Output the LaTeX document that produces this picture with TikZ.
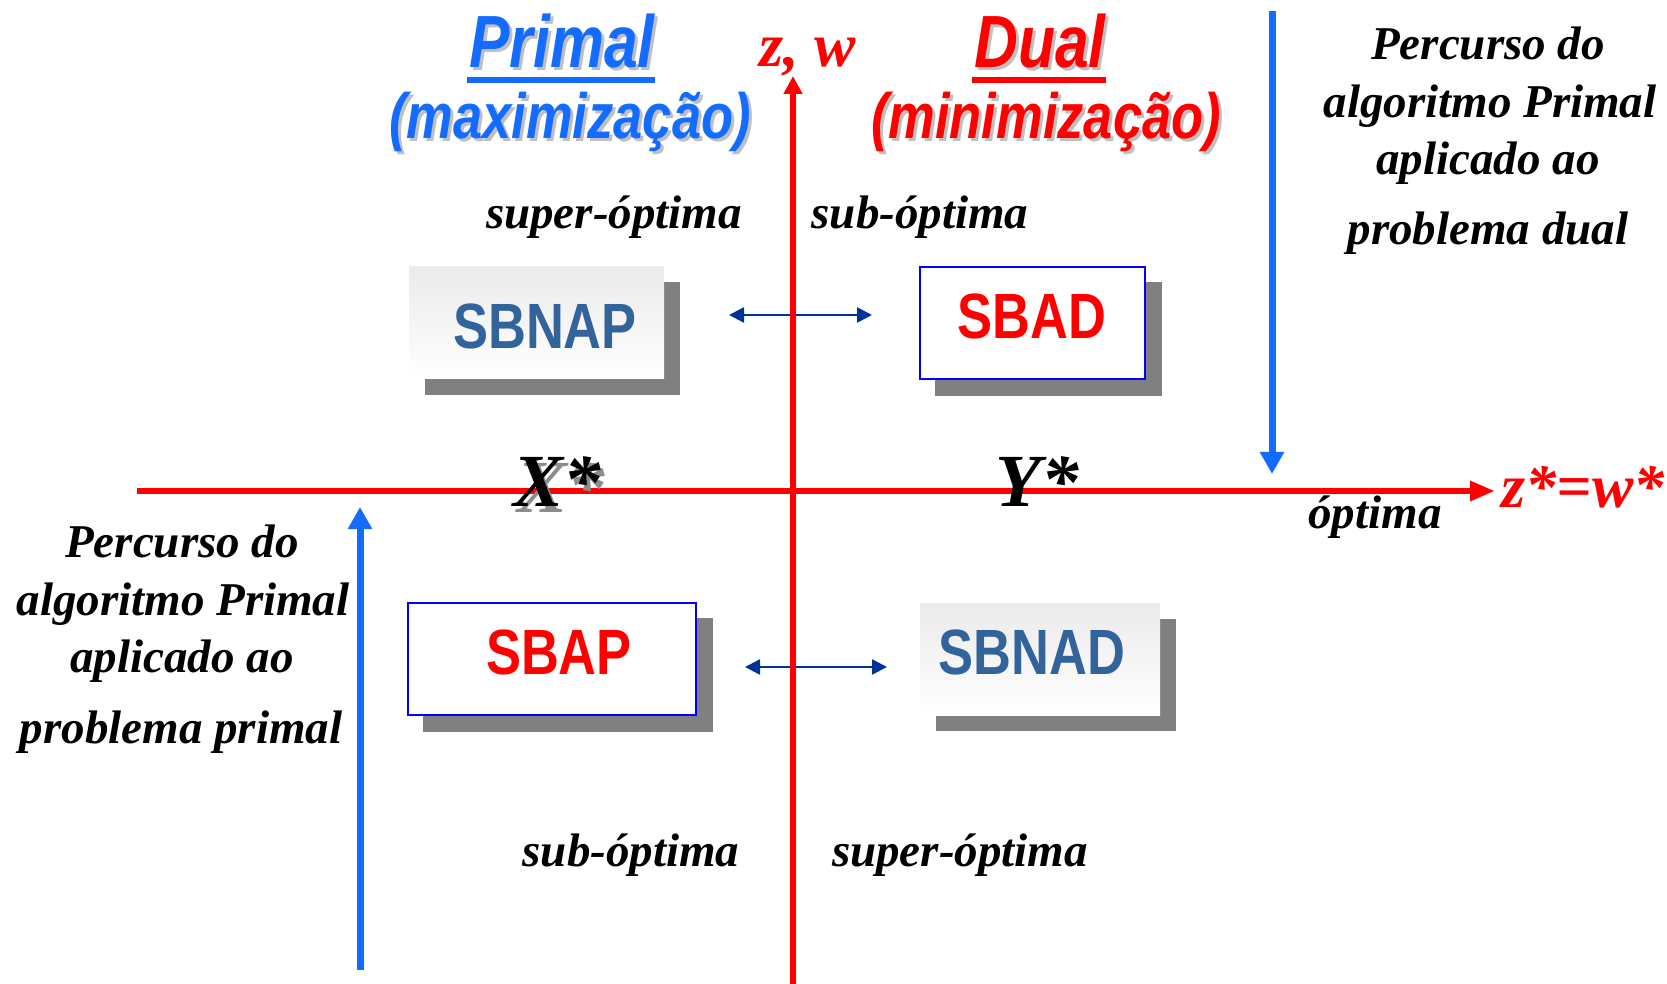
\documentclass[tikz,border=0pt]{standalone}
\usepackage{fontspec}
\setmainfont{Liberation Serif}
\newfontfamily\narrowsans[FakeStretch=0.82]{Liberation Sans}
\usetikzlibrary{arrows.meta,calc,backgrounds}
\definecolor{pblue}{RGB}{20,108,255}
\definecolor{abox}{RGB}{0,0,255}
\definecolor{darr}{RGB}{0,51,153}
\definecolor{sbblue}{RGB}{50,100,155}
\definecolor{shad}{RGB}{128,128,128}
\begin{document}
\begin{tikzpicture}[x=0.5pt,y=-0.5pt,
  title/.style={font=\narrowsans\bfseries\itshape\fontsize{37}{44}\selectfont, inner sep=0, anchor=base},
  subtitle/.style={font=\narrowsans\bfseries\itshape\fontsize{32}{38}\selectfont, inner sep=0, anchor=base},
  lbl/.style={font=\bfseries\itshape\fontsize{23.5}{28}\selectfont, inner sep=0, anchor=base},
  redlbl/.style={font=\bfseries\itshape\fontsize{31}{36}\selectfont, text=red, inner sep=0, anchor=base},
  starlbl/.style={font=\bfseries\itshape\fontsize{37.5}{44}\selectfont, inner sep=0, anchor=base},
  sbtext/.style={font=\narrowsans\bfseries\fontsize{32}{38}\selectfont, inner sep=0},
  plainbox/.style={minimum height=56pt, inner sep=0, top color=black!8, bottom color=white, draw=none},
  bluebox/.style={minimum height=56pt, inner sep=0, fill=white, draw=abox, line width=1pt},
  redaxis/.style={red, line width=3.3pt},
  bluepath/.style={pblue, line width=3.5pt, -{Triangle[length=11pt,width=11.5pt]}},
  dblarrow/.style={darr, line width=1.3pt, {Triangle[length=7.5pt,width=7.5pt]}-{Triangle[length=7.5pt,width=7.5pt]}}
]
\useasboundingbox (0,0) rectangle (1667,984);

% titles
\node[title, text=black!25] (primalsh) at (565,71) {Primal};
\node[title, text=pblue] (primal) at (562,68) {Primal};
\draw[pblue, line width=3pt] ($(primal.base west)+(-2,12)$) -- ($(primal.base east)+(0,12)$);
\node[subtitle, text=black!25] (maxsh) at (573,142) {(maximização)};
\node[subtitle, text=pblue] (maxim) at (570,139) {(maximização)};

\node[title, text=black!25] (dualsh) at (1043,71) {Dual};
\node[title, text=red] (dual) at (1040,68) {Dual};
\draw[red, line width=3pt] ($(dual.base west)+(-2,12)$) -- ($(dual.base east)+(0,12)$);
\node[subtitle, text=black!25] (minsh) at (1049,142) {(minimização)};
\node[subtitle, text=red] (minim) at (1046,139) {(minimização)};

\node[redlbl] (zw) at (808,67) {z, w};

% labels
\node[lbl] (supTop) at (614,229) {super-óptima};
\node[lbl] (subTop) at (920,229) {sub-óptima};
\node[lbl] (subBot) at (631,866) {sub-óptima};
\node[lbl] (supBot) at (960,866) {super-óptima};

% right text block
\node[lbl] (rp1) at (1488,60) {Percurso do};
\node[lbl] (rp2) at (1490,118) {algoritmo Primal};
\node[lbl] (rp3) at (1488,175) {aplicado ao};
\node[lbl] (rp4) at (1488,245) {problema dual};

% left text block
\node[lbl] (lp1) at (182,557) {Percurso do};
\node[lbl] (lp2) at (183,615) {algoritmo Primal};
\node[lbl] (lp3) at (182,672) {aplicado ao};
\node[lbl] (lp4) at (181,743) {problema primal};

% boxes
\node[plainbox, minimum width=127.5pt] (bnap) at (536.5,322.5) {};
\node[bluebox, minimum width=112.5pt] (bad) at (1032.5,323) {};
\node[bluebox, minimum width=144pt] (bap) at (552,659) {};
\node[plainbox, minimum width=120pt] (bnad) at (1040,659) {};
\begin{scope}[on background layer]
  \foreach \b in {bnap,bad,bap,bnad}
    \fill[shad] ($(\b.south west)+(16,16)$) rectangle ($(\b.north east)+(16,16)$);
\end{scope}
\node[sbtext, text=sbblue] (tnap) at (545,326) {SBNAP};
\node[sbtext, text=red] (tad) at (1032,316) {SBAD};
\node[sbtext, text=red] (tap) at (559,652) {SBAP};
\node[sbtext, text=sbblue] (tnad) at (1032,652) {SBNAD};

% double arrows
\coordinate (da1l) at (729,315);
\coordinate (da1r) at (872,315);
\coordinate (da2l) at (745,667);
\coordinate (da2r) at (887,667);
\draw[dblarrow] (da1l) -- (da1r);
\draw[dblarrow] (da2l) -- (da2r);

% axes
\coordinate (hstart) at (137,491);
\coordinate (hend) at (1495,491);
\coordinate (vbot) at (793,984);
\coordinate (vtop) at (793,76);
\draw[redaxis, -{Triangle[length=12.5pt,width=9.5pt]}] (hstart) -- (hend);
\draw[redaxis, -{Triangle[length=9pt,width=9pt]}] (vbot) -- (vtop);

% blue path arrows
\coordinate (rbtop) at (1272,11);
\coordinate (rbtip) at (1272,474);
\coordinate (lbbot) at (360,970);
\coordinate (lbtip) at (360,507);
\draw[bluepath] (rbtop) -- (rbtip);
\draw[bluepath] (lbbot) -- (lbtip);

% optimum labels
\node[starlbl, text=black!45] (xsh) at (561,512) {X*};
\node[starlbl] (xstar) at (557,507) {X*};
\node[starlbl] (ystar) at (1037,507) {Y*};
\node[lbl] (opt) at (1375,528) {óptima};
\node[redlbl] (zwstar) at (1583,508) {z*=w*};
\end{tikzpicture}
\end{document}
